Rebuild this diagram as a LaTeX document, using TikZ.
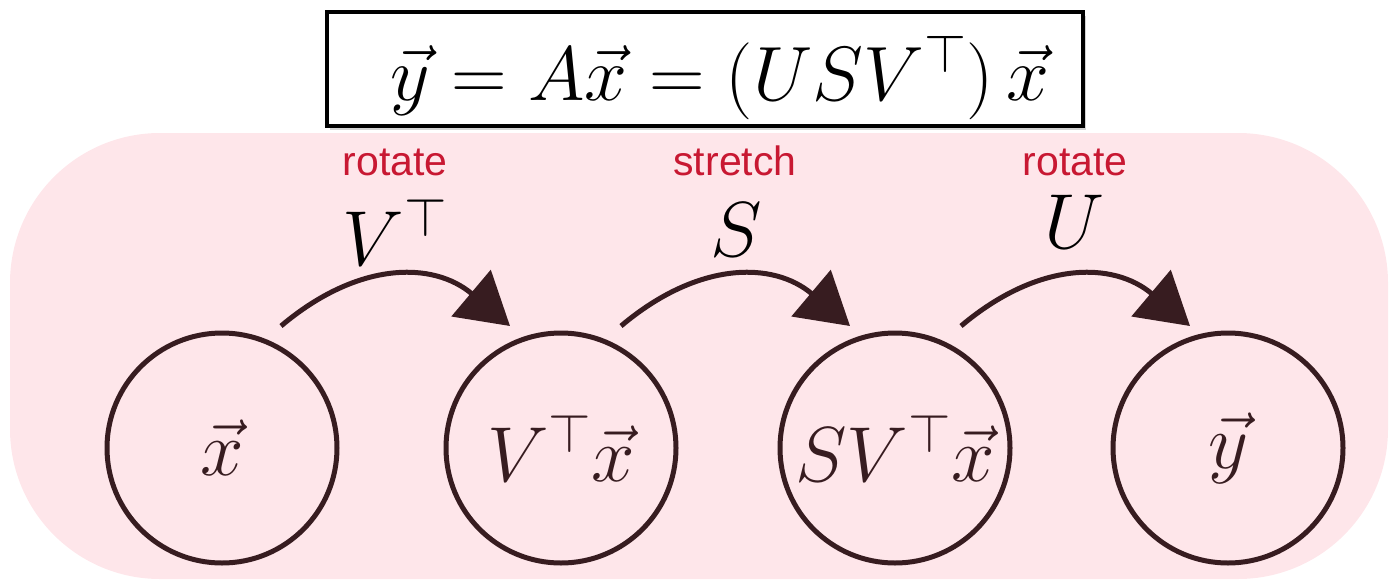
\RequirePackage{fix-cm}
\documentclass[tikz,border=0pt]{standalone}
\usepackage{fontspec}
\newfontfamily\labelfont{Liberation Sans}
\usetikzlibrary{arrows.meta,shadows}
\definecolor{svdpink}{RGB}{254,230,234}
\definecolor{svddark}{RGB}{55,28,32}
\definecolor{svdred}{RGB}{200,24,50}
\newcommand{\mathsize}{\fontsize{78}{90}\selectfont}
\newcommand{\redsize}{\labelfont\fontsize{41}{48}\selectfont}

\begin{document}
\begin{tikzpicture}[x=1pt,y=-1pt,line width=5pt,>={Triangle[length=51pt,width=60pt]},
  vecnode/.style={circle,draw=svddark,minimum size=230pt,inner sep=0pt,font=\mathsize,text=svddark},
  oplabel/.style={anchor=base,font=\mathsize,text=black},
  actlabel/.style={anchor=base,font=\redsize,text=svdred}]
  \useasboundingbox (0,0) rectangle (1392,579);
  \fill[svdpink,rounded corners=150pt] (10,133) rectangle (1388,579);
  % equation box
  \node[draw=black,line width=3.5pt,fill=white,minimum width=756pt,minimum height=114pt,
        drop shadow={shadow xshift=3pt,shadow yshift=-4pt,opacity=.35}] (eqbox) at (705,69) {};
  \node[anchor=base,font=\fontsize{77}{92}\selectfont] (eq) at (720,100) {$\vec{y} = A\vec{x} = (USV^\top)\,\vec{x}$};
  % vectors
  \node[vecnode] (x) at (222,448) {$\vec{x}$};
  \node[vecnode] (vx) at (561,448) {$V^\top\vec{x}$};
  \node[vecnode] (svx) at (895,448) {$SV^\top\vec{x}$};
  \node[vecnode] (y) at (1228,448) {$\vec{y}$};
  % maps
  \coordinate (s1) at (281,326);
  \coordinate (e1) at (510,326);
  \coordinate (s2) at (621,326);
  \coordinate (e2) at (850,326);
  \coordinate (s3) at (961,326);
  \coordinate (e3) at (1190,326);
  \draw[svddark,->] (s1) .. controls +(77,-65) and +(-77,-65) .. (e1);
  \draw[svddark,->] (s2) .. controls +(77,-65) and +(-77,-65) .. (e2);
  \draw[svddark,->] (s3) .. controls +(77,-65) and +(-77,-65) .. (e3);
  \node[actlabel] (rot1) at (395,175) {rotate};
  \node[oplabel] (vt) at (395,265) {$V^\top$};
  \node[actlabel] (str) at (735,175) {stretch};
  \node[oplabel] (s) at (736,256) {$S$};
  \node[actlabel] (rot2) at (1075,175) {rotate};
  \node[oplabel] (u) at (1074,248) {$U$};
\end{tikzpicture}
\end{document}
